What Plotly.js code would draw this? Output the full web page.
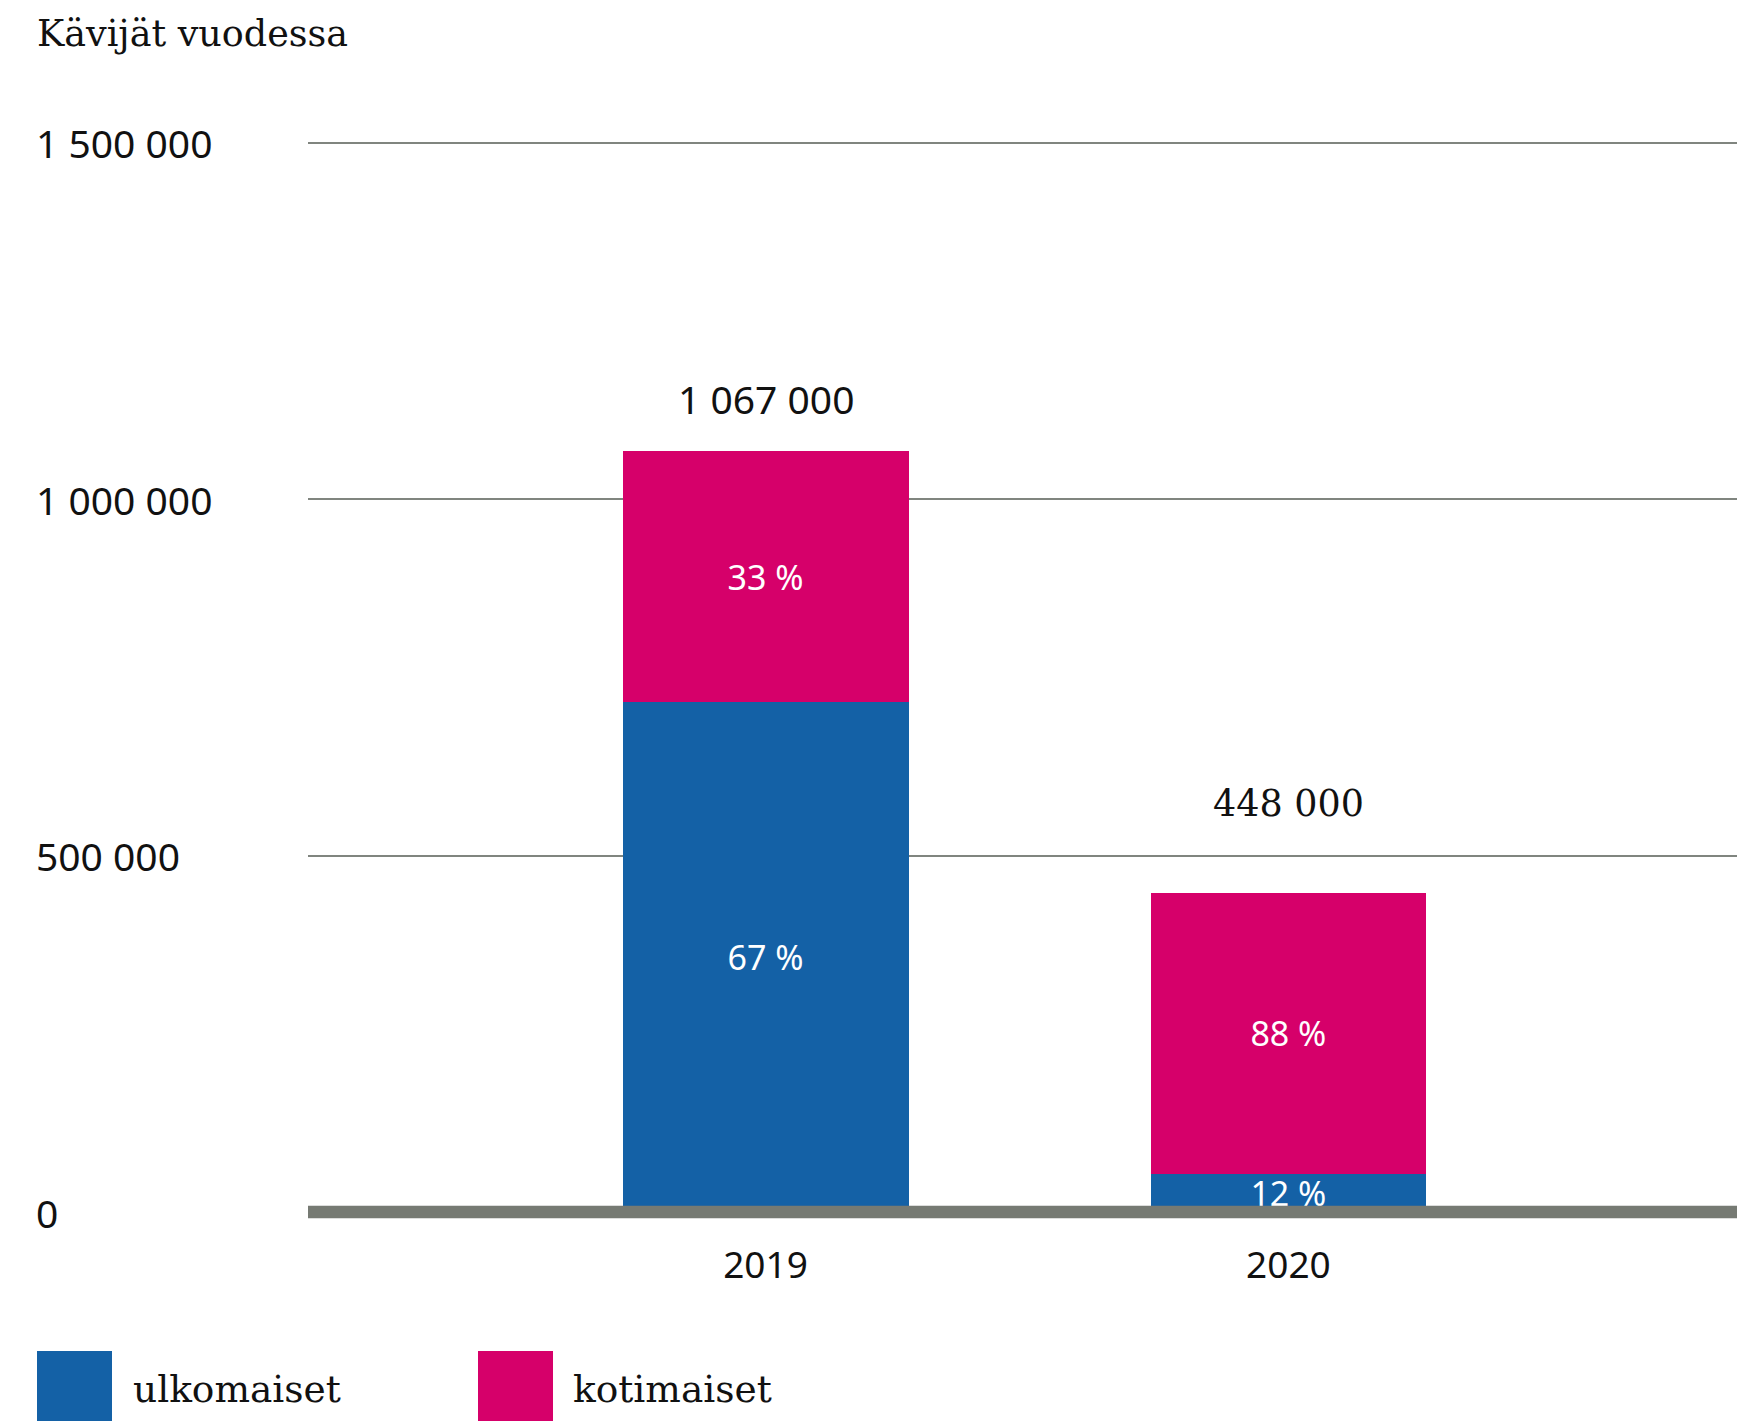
<!DOCTYPE html>
<html>
<head>
<meta charset="utf-8">
<script src="https://cdn.plot.ly/plotly-3.0.1.min.js"></script>
<style>html,body{margin:0;padding:0;background:#fff;}#chart{width:1737px;height:1421px;}</style>
</head>
<body>
<div id="chart"></div>
<script>
// ---- Data ----
const categories = ['2019', '2020'];
const seriesNames = ['ulkomaiset', 'kotimaiset'];
const ulkomaiset = [715000, 54000];
const kotimaiset = [352000, 394000];
const ulkomaisetPct = ['67 %', '12 %'];
const kotimaisetPct = ['33 %', '88 %'];
const totals = [1067000, 448000];
const yTickVals = [0, 500000, 1000000, 1500000];
const yTickText = ['0', '500 000', '1 000 000', '1 500 000'];
const yTitle = 'Kävijät vuodessa';

// ---- Styles ----
const BLUE = '#1461a6';
const PINK = '#d6006a';
const GRID = '#80857f';
const BASE = '#767a73';
const TXT = '#111111';
const SANS = 'Noto Sans, Open Sans, sans-serif';
const SERIF = 'DejaVu Serif, serif';

const W = 1737, H = 1421;
const M = {l: 308, r: 0, t: 100, b: 209};
const plotW = W - M.l - M.r, plotH = H - M.t - M.b;
const px = x => (x - M.l) / plotW;
const py = y => (H - M.b - y) / plotH;

function fmt(n) { return String(n).replace(/\B(?=(\d{3})+(?!\d))/g, ' '); }

const barWidths = [0.547, 0.526];

const traces = [
  {
    type: 'bar', name: seriesNames[0], x: categories, y: ulkomaiset,
    marker: {color: BLUE}, width: barWidths,
    text: ulkomaisetPct, textposition: 'inside', insidetextanchor: 'middle',
    textangle: 0, constraintext: 'none',
    textfont: {family: SANS, size: 34, color: '#ffffff'},
    hoverinfo: 'none', showlegend: false
  },
  {
    type: 'bar', name: seriesNames[1], x: categories, y: kotimaiset,
    marker: {color: PINK}, width: barWidths,
    text: kotimaisetPct, textposition: 'inside', insidetextanchor: 'middle',
    textangle: 0, constraintext: 'none',
    textfont: {family: SANS, size: 34, color: '#ffffff'},
    hoverinfo: 'none', showlegend: false
  }
];

const annotations = [];
// y tick labels, left aligned
yTickVals.forEach((v, i) => {
  annotations.push({
    xref: 'paper', yref: 'y', x: px(34), y: v, xanchor: 'left', yanchor: 'middle',
    text: yTickText[i], showarrow: false,
    font: {family: SANS, size: 39, color: TXT}
  });
});
// totals above bars
const totalShift = [53, 89];
const totalFonts = [SANS, SERIF];
const totalSizes = [39, 36.5];
totals.forEach((v, i) => {
  annotations.push({
    xref: 'x', yref: 'y', x: i, y: v, xanchor: 'center', yanchor: 'middle',
    yshift: totalShift[i], text: fmt(v), showarrow: false,
    font: {family: totalFonts[i], size: totalSizes[i], color: TXT}
  });
});
// legend
const legendColors = [BLUE, PINK];
const legendBoxX = [37, 478];
const legendTextX = [131, 571];
const shapes = [];
seriesNames.forEach((n, i) => {
  shapes.push({
    type: 'rect', xref: 'paper', yref: 'paper', layer: 'above',
    x0: px(legendBoxX[i]), x1: px(legendBoxX[i] + 75),
    y0: py(1351), y1: py(1440),
    fillcolor: legendColors[i], line: {width: 0}
  });
  annotations.push({
    xref: 'paper', yref: 'paper', x: px(legendTextX[i]), y: py(1389),
    xanchor: 'left', yanchor: 'middle', text: n, showarrow: false,
    font: {family: SERIF, size: 37.5, color: TXT}
  });
});
// baseline (zero line)
shapes.push({
  type: 'line', xref: 'paper', yref: 'paper', x0: 0, x1: 1, y0: 0, y1: 0,
  layer: 'above', line: {color: BASE, width: 12.5}
});

const layout = {
  width: W, height: H,
  margin: M,
  paper_bgcolor: '#ffffff', plot_bgcolor: '#ffffff',
  barmode: 'stack',
  showlegend: false,
  title: {
    text: yTitle, xref: 'container', yref: 'container',
    x: 37 / W, xanchor: 'left', y: 1 - 33 / H, yanchor: 'middle',
    font: {family: SERIF, size: 36.5, color: TXT}
  },
  xaxis: {
    type: 'category', range: [-0.875, 1.858],
    showgrid: false, zeroline: false, showline: false, ticks: '',
    ticklabelstandoff: 28,
    tickfont: {family: SANS, size: 37, color: TXT},
    fixedrange: true
  },
  yaxis: {
    range: [0, 1560000], tickvals: yTickVals, ticktext: yTickText,
    showticklabels: false, showgrid: true, gridcolor: GRID, gridwidth: 2,
    zeroline: false, showline: false, ticks: '', fixedrange: true
  },
  annotations: annotations,
  shapes: shapes
};

Plotly.newPlot('chart', traces, layout, {displayModeBar: false, staticPlot: true});
</script>
</body>
</html>
